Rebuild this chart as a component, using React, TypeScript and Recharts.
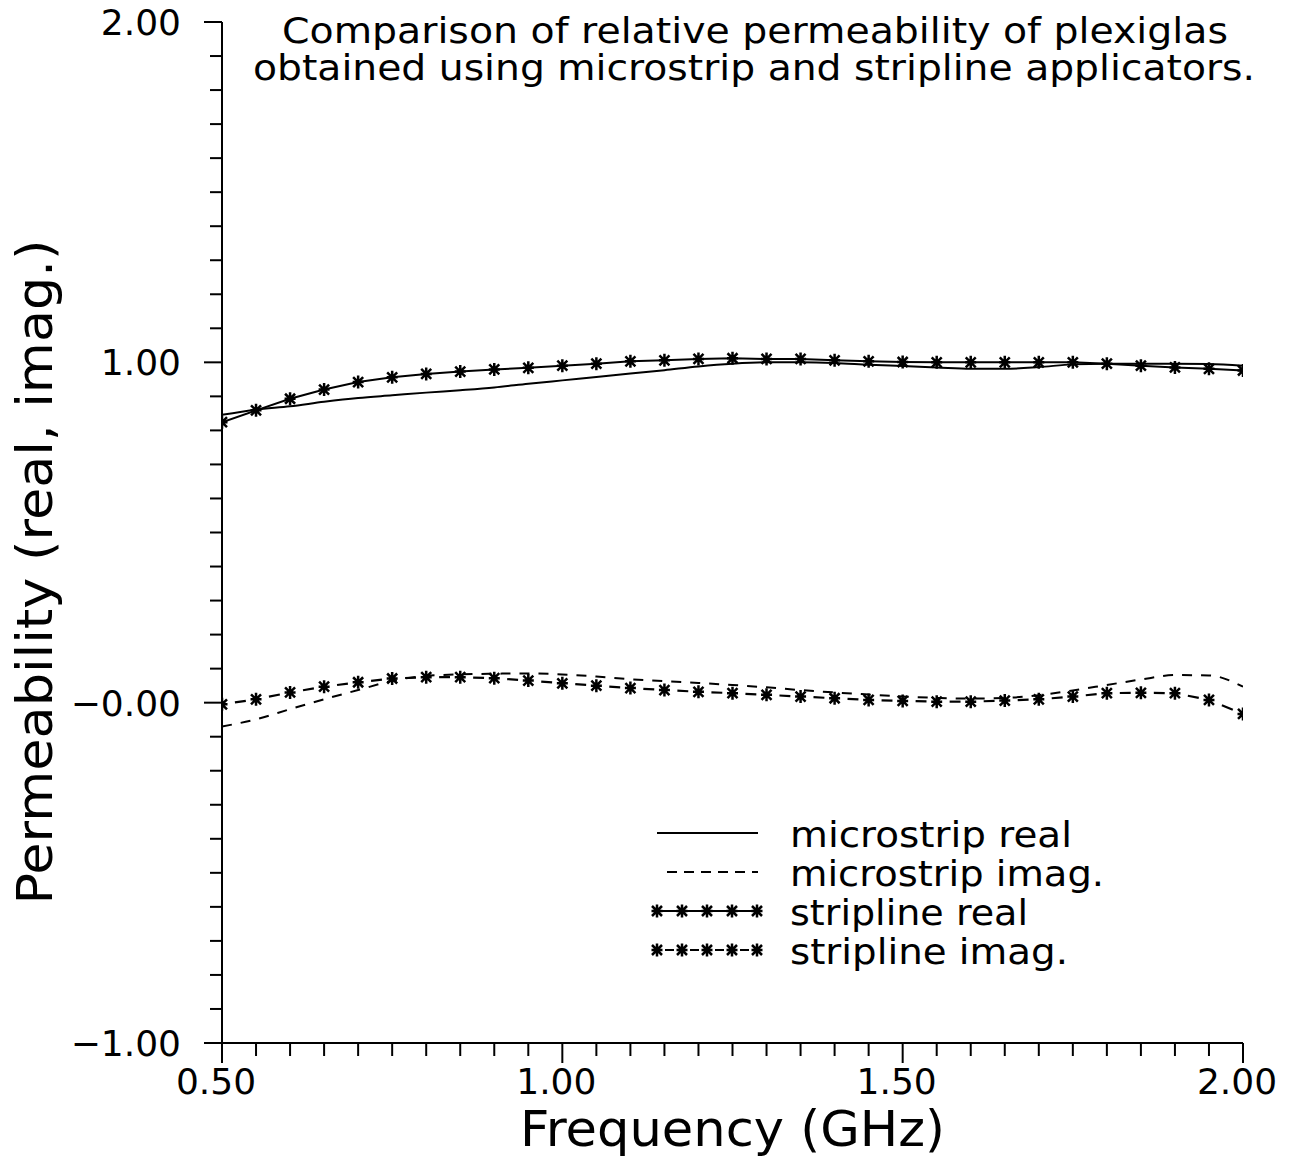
import React from 'react';
import { LineChart, Line, XAxis, YAxis, Legend } from 'recharts';

// frequency in GHz, one sample every 0.05
const frequency = [
  0.5, 0.55, 0.6, 0.65, 0.7, 0.75, 0.8, 0.85, 0.9, 0.95, 1.0, 1.05, 1.1, 1.15, 1.2, 1.25,
  1.3, 1.35, 1.4, 1.45, 1.5, 1.55, 1.6, 1.65, 1.7, 1.75, 1.8, 1.85, 1.9, 1.95, 2.0,
];
const microstripReal = [
  0.846, 0.861, 0.871, 0.884, 0.895, 0.903, 0.911, 0.918, 0.926, 0.937, 0.947, 0.957, 0.967, 0.977, 0.988, 0.996,
  1.0, 1.0, 0.998, 0.993, 0.989, 0.985, 0.981, 0.981, 0.986, 0.994, 0.996, 0.996, 0.996, 0.995, 0.99,
];
const microstripImag = [
  -0.07, -0.049, -0.019, 0.01, 0.037, 0.064, 0.079, 0.083, 0.085, 0.086, 0.083, 0.077, 0.069, 0.063, 0.058, 0.052,
  0.045, 0.037, 0.03, 0.024, 0.018, 0.014, 0.012, 0.014, 0.022, 0.036, 0.052, 0.068, 0.081, 0.08, 0.047,
];
const striplineReal = [
  0.824, 0.859, 0.893, 0.92, 0.942, 0.956, 0.966, 0.973, 0.979, 0.984, 0.99, 0.996, 1.003, 1.006, 1.01, 1.012,
  1.01, 1.01, 1.006, 1.003, 1.001, 1.0, 1.0, 1.0, 1.0, 1.0, 0.996, 0.99, 0.985, 0.981, 0.976,
];
const striplineImag = [
  -0.005, 0.01, 0.03, 0.047, 0.06, 0.071, 0.075, 0.075, 0.072, 0.065, 0.057, 0.05, 0.043, 0.037, 0.032, 0.028,
  0.023, 0.018, 0.013, 0.008, 0.005, 0.003, 0.003, 0.006, 0.01, 0.018, 0.028, 0.029, 0.028, 0.008, -0.033,
];

const xTicks = [
  0.5, 0.55, 0.6, 0.65, 0.7, 0.75, 0.8, 0.85, 0.9, 0.95, 1.0, 1.05, 1.1, 1.15, 1.2, 1.25,
  1.3, 1.35, 1.4, 1.45, 1.5, 1.55, 1.6, 1.65, 1.7, 1.75, 1.8, 1.85, 1.9, 1.95, 2.0,
];
const xMajorTicks = [0.5, 1.0, 1.5, 2.0];
const xTickLabels = ['0.50', '1.00', '1.50', '2.00'];
const yTicks = [
  -1.0, -0.9, -0.8, -0.7, -0.6, -0.5, -0.4, -0.3, -0.2, -0.1, 0, 0.1, 0.2, 0.3, 0.4, 0.5,
  0.6, 0.7, 0.8, 0.9, 1.0, 1.1, 1.2, 1.3, 1.4, 1.5, 1.6, 1.7, 1.8, 1.9, 2.0,
];
const yMajorTicks = [-1, 0, 1, 2];
const yTickLabels = ['\u22121.00', '\u22120.00', '1.00', '2.00'];

const seriesNames = ['microstrip real', 'microstrip imag.', 'stripline real', 'stripline imag.'];

const data = frequency.map((f, i) => ({
  f,
  msReal: microstripReal[i],
  msImag: microstripImag[i],
  slReal: striplineReal[i],
  slImag: striplineImag[i],
}));

const FONT = '"DejaVu Sans", Verdana, sans-serif';
const INK = '#000';

function majorIndex(list: number[], v: number) {
  return list.findIndex((m) => Math.abs(m - v) < 1e-6);
}

function XTick(props: any) {
  const { x, y, payload } = props;
  const i = majorIndex(xMajorTicks, payload.value);
  return (
    <g>
      <line x1={x} x2={x} y1={y} y2={y + (i >= 0 ? 20 : 13)} stroke={INK} strokeWidth={2} />
      {i >= 0 && (
        <text x={x - 6} y={y + 51} textAnchor="middle" fontSize={36} fontFamily={FONT} fill={INK}>
          {xTickLabels[i]}
        </text>
      )}
    </g>
  );
}

function YTick(props: any) {
  const { x, y, payload } = props;
  const i = majorIndex(yMajorTicks, payload.value);
  return (
    <g>
      <line x1={x - (i >= 0 ? 18 : 12)} x2={x} y1={y} y2={y} stroke={INK} strokeWidth={2} />
      {i >= 0 && (
        <text x={x - 41} y={y + 13} textAnchor="end" fontSize={36} fontFamily={FONT} fill={INK}>
          {yTickLabels[i]}
        </text>
      )}
    </g>
  );
}

function asteriskPath(cx: number, cy: number) {
  const r = 6.5;
  const d = 5;
  return `M${cx},${cy - r}V${cy + r}M${cx - 5.5},${cy}H${cx + 5.5}M${cx - d},${cy - d}L${cx + d},${cy + d}M${cx - d},${cy + d}L${cx + d},${cy - d}`;
}

function StarDot(props: any) {
  const { cx, cy, index } = props;
  if (cx == null || cy == null) return <g key={`s-${index}`} />;
  return <path key={`s-${index}`} d={asteriskPath(cx, cy)} stroke={INK} strokeWidth={2.5} fill="none" />;
}

// stripline imag: star at each sample plus a short dash halfway to the next one
function StarDashDot(props: any) {
  const { cx, cy, index, points } = props;
  if (cx == null || cy == null) return <g key={`d-${index}`} />;
  const next = points && points[index + 1];
  let dash = null;
  if (next && next.x != null && next.y != null) {
    const t0 = 0.38;
    const t1 = 0.7;
    dash = (
      <line
        x1={cx + (next.x - cx) * t0}
        y1={cy + (next.y - cy) * t0}
        x2={cx + (next.x - cx) * t1}
        y2={cy + (next.y - cy) * t1}
        stroke={INK}
        strokeWidth={2.2}
      />
    );
  }
  return (
    <g key={`d-${index}`}>
      <path d={asteriskPath(cx, cy)} stroke={INK} strokeWidth={2.5} fill="none" />
      {dash}
    </g>
  );
}

const legendWidths = [282, 314, 238, 278];

function LegendBox() {
  const rows = [833, 872, 911, 950].map((v) => v - 800);
  const x0 = 17;
  const x1 = 118;
  const sampleStars = [0, 1, 2, 3, 4].map((k) => x0 + k * 25);
  return (
    <svg width={480} height={180} style={{ overflow: 'visible' }}>
      <line x1={x0} x2={x1} y1={rows[0]} y2={rows[0]} stroke={INK} strokeWidth={2} />
      <line x1={x0 + 10} x2={x1} y1={rows[1]} y2={rows[1]} stroke={INK} strokeWidth={2} strokeDasharray="10 7" />
      <line x1={x0} x2={x1} y1={rows[2]} y2={rows[2]} stroke={INK} strokeWidth={2} />
      {sampleStars.map((sx) => (
        <path key={`r${sx}`} d={asteriskPath(sx, rows[2])} stroke={INK} strokeWidth={2.5} fill="none" />
      ))}
      {sampleStars.map((sx, k) => (
        <g key={`i${sx}`}>
          <path d={asteriskPath(sx, rows[3])} stroke={INK} strokeWidth={2.5} fill="none" />
          {k < 4 && <line x1={sx + 8} x2={sx + 17} y1={rows[3]} y2={rows[3]} stroke={INK} strokeWidth={2} />}
        </g>
      ))}
      {seriesNames.map((name, i) => (
        <text
          key={name}
          x={150}
          y={rows[i] + 14}
          fontSize={36}
          fontFamily={FONT}
          fill={INK}
          textLength={legendWidths[i]}
          lengthAdjust="spacingAndGlyphs"
        >
          {name}
        </text>
      ))}
    </svg>
  );
}

export default function App() {
  return (
    <div style={{ position: 'absolute', left: 0, top: 0, width: 1292, height: 1160, background: '#fff' }}>
      <LineChart
        width={1292}
        height={1160}
        data={data}
        margin={{ top: 22, right: 49, bottom: 57, left: 162 }}
      >
        <XAxis
          dataKey="f"
          type="number"
          domain={[0.5, 2.0]}
          ticks={xTicks}
          interval={0}
          height={60}
          tickSize={0}
          tickMargin={0}
          tickLine={false}
          tick={<XTick />}
          axisLine={{ stroke: INK, strokeWidth: 2 }}
          allowDataOverflow
        />
        <YAxis
          type="number"
          domain={[-1, 2]}
          ticks={yTicks}
          interval={0}
          width={60}
          tickSize={0}
          tickMargin={0}
          tickLine={false}
          tick={<YTick />}
          axisLine={{ stroke: INK, strokeWidth: 2 }}
          allowDataOverflow
        />
        <Legend
          layout="horizontal"
          verticalAlign="middle"
          align="center"
          content={() => <LegendBox />}
          wrapperStyle={{ position: 'absolute', left: 640, top: 800, width: 480, height: 180 }}
        />
        <Line
          name={seriesNames[0]}
          dataKey="msReal"
          type="monotone"
          stroke={INK}
          strokeWidth={2}
          dot={false}
          isAnimationActive={false}
        />
        <Line
          name={seriesNames[1]}
          dataKey="msImag"
          type="monotone"
          stroke={INK}
          strokeWidth={2}
          strokeDasharray="10 9"
          dot={false}
          isAnimationActive={false}
        />
        <Line
          name={seriesNames[2]}
          dataKey="slReal"
          type="linear"
          stroke={INK}
          strokeWidth={2}
          dot={<StarDot />}
          isAnimationActive={false}
        />
        <Line
          name={seriesNames[3]}
          dataKey="slImag"
          type="linear"
          stroke="none"
          strokeWidth={0}
          dot={<StarDashDot />}
          isAnimationActive={false}
        />
      </LineChart>
      <svg
        width={1292}
        height={1160}
        style={{ position: 'absolute', left: 0, top: 0, pointerEvents: 'none' }}
      >
        <g fontFamily={FONT} fill={INK}>
          <text x={282} y={43} fontSize={35} textLength={946} lengthAdjust="spacingAndGlyphs">
            Comparison of relative permeability of plexiglas
          </text>
          <text x={253} y={80} fontSize={35} textLength={1002} lengthAdjust="spacingAndGlyphs">
            obtained using microstrip and stripline applicators.
          </text>
          <text x={520} y={1146} fontSize={50} textLength={425} lengthAdjust="spacingAndGlyphs">
            Frequency (GHz)
          </text>
          <text
            x={0}
            y={0}
            fontSize={50}
            textAnchor="middle"
            textLength={665}
            lengthAdjust="spacingAndGlyphs"
            transform="translate(52 572) rotate(-90)"
          >
            Permeability (real, imag.)
          </text>
        </g>
      </svg>
    </div>
  );
}
